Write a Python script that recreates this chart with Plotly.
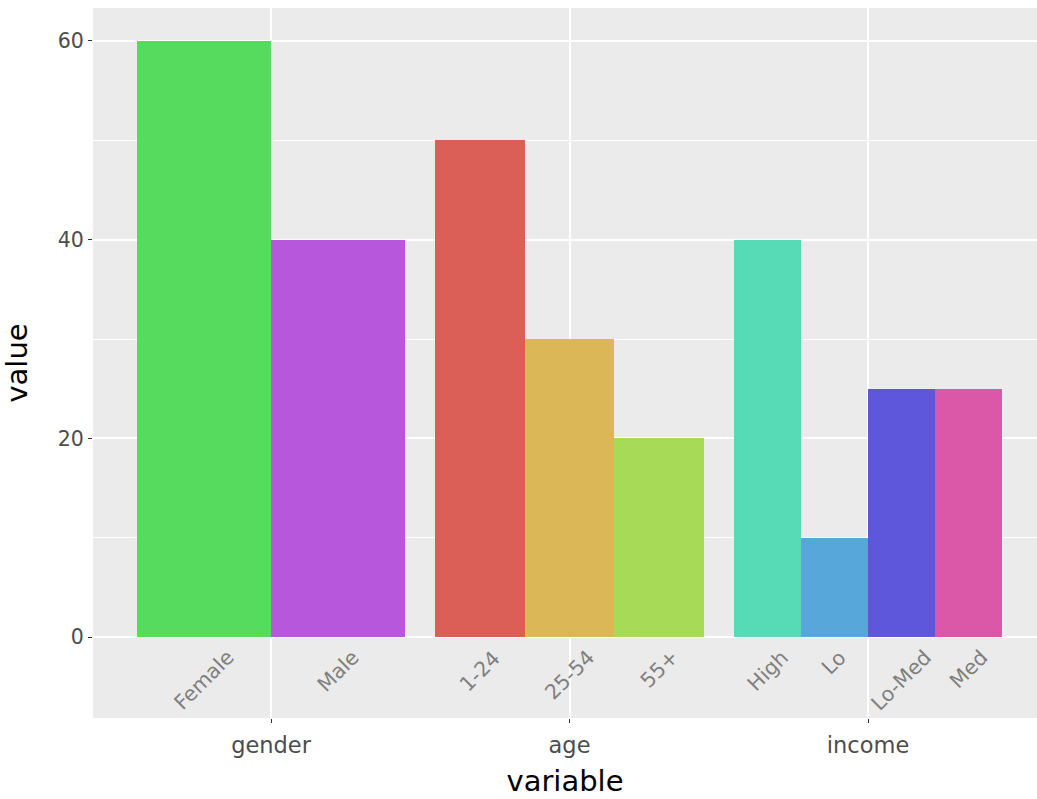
import colorsys
import plotly.graph_objects as go

# ---- data ----
variables = ["gender", "age", "income"]
gender_levels = ["Female", "Male"]
gender_values = [60, 40]
age_levels = ["1-24", "25-54", "55+"]
age_values = [50, 30, 20]
income_levels = ["High", "Lo", "Lo-Med", "Med"]
income_values = [40, 10, 25, 25]
y_ticks = [0, 20, 40, 60]

groups = [(gender_levels, gender_values), (age_levels, age_values), (income_levels, income_values)]

# hue palette (hls, l=0.6, s=0.65) over alphabetically sorted levels
all_levels = sorted(gender_levels + age_levels + income_levels)
n = len(all_levels)
def hls_hex(i):
    r, g, b = colorsys.hls_to_rgb(0.01 + i / n, 0.6, 0.65)
    return "#%02x%02x%02x" % (round(r * 255), round(g * 255), round(b * 255))
palette = {lev: hls_hex(i) for i, lev in enumerate(all_levels)}

FONT = "DejaVu Sans"
dodge = 0.9

fig = go.Figure()
annotations = []
for gi, (levels, values) in enumerate(groups):
    pos = gi + 1
    k = len(levels)
    w = dodge / k
    xs = [pos - dodge / 2 + (j + 0.5) * w for j in range(k)]
    fig.add_trace(go.Bar(
        x=xs, y=values, width=[w] * k,
        marker=dict(color=[palette[l] for l in levels], line=dict(width=0)),
        showlegend=False, hoverinfo="skip",
    ))
    for xv, lab in zip(xs, levels):
        annotations.append(dict(
            x=xv, y=-0.7, xref="x", yref="y", text=lab, showarrow=False,
            textangle=-45, xanchor="center", yanchor="top", borderpad=0,
            font=dict(family=FONT, size=20.5, color="#7f7f7f"),
        ))

fig.update_layout(
    width=1037, height=799,
    margin=dict(l=93, r=0, t=8, b=81, autoexpand=False),
    paper_bgcolor="white", plot_bgcolor="#EBEBEB",
    font=dict(family=FONT),
    annotations=annotations,
    bargap=0,
)
fig.update_xaxes(
    range=[0.4037, 3.566],
    tickvals=[1, 2, 3], ticktext=variables,
    showgrid=True, gridcolor="white", gridwidth=1.5,
    zeroline=False, showline=False,
    ticks="outside", ticklen=4, tickwidth=1.3, tickcolor="#333333",
    ticklabelstandoff=3,
    tickfont=dict(family=FONT, size=22.5, color="#4d4d4d"),
    title=dict(text="variable", font=dict(family=FONT, size=29, color="black"), standoff=13),
)
fig.update_yaxes(
    range=[-8.15, 63.32],
    tickvals=y_ticks,
    showgrid=True, gridcolor="white", gridwidth=1.5,
    minor=dict(tickvals=[10, 30, 50], showgrid=True, gridcolor="white", gridwidth=0.7, ticks=""),
    zeroline=False, showline=False,
    ticks="outside", ticklen=4, tickwidth=1.3, tickcolor="#333333",
    tickfont=dict(family=FONT, size=20.5, color="#4d4d4d"),
    title=dict(text="value", font=dict(family=FONT, size=29, color="black"), standoff=21),
)

fig.write_html("out.html", config={"displayModeBar": False},
               post_script="document.body.style.margin='0px';document.body.style.overflow='hidden';")
